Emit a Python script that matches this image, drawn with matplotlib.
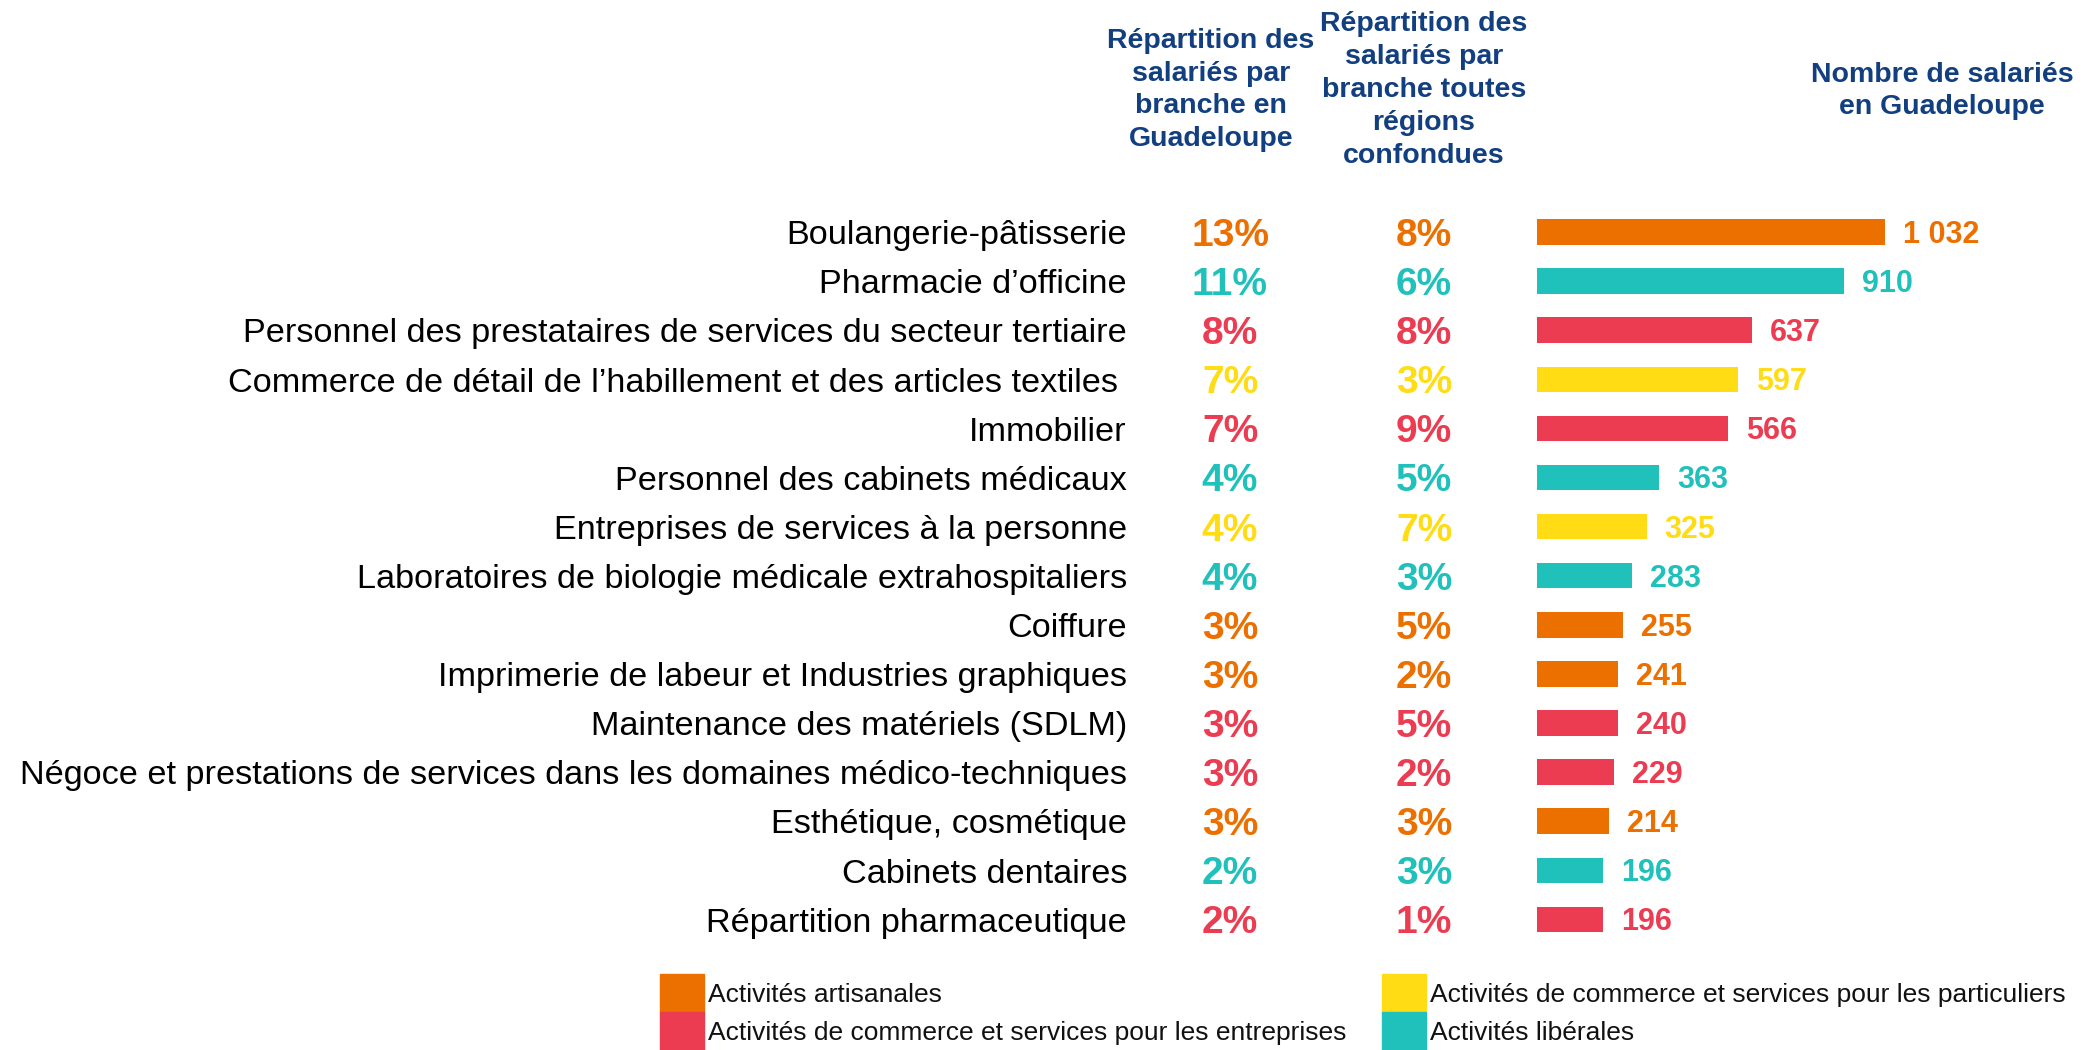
import matplotlib
matplotlib.use("Agg")
import matplotlib.pyplot as plt
from matplotlib.patches import Rectangle
from matplotlib.transforms import blended_transform_factory

# DATA
branches = [
    "Boulangerie-pâtisserie",
    "Pharmacie d’officine",
    "Personnel des prestataires de services du secteur tertiaire",
    "Commerce de détail de l’habillement et des articles textiles ",
    "Immobilier",
    "Personnel des cabinets médicaux",
    "Entreprises de services à la personne",
    "Laboratoires de biologie médicale extrahospitaliers",
    "Coiffure",
    "Imprimerie de labeur et Industries graphiques",
    "Maintenance des matériels (SDLM)",
    "Négoce et prestations de services dans les domaines médico-techniques",
    "Esthétique, cosmétique",
    "Cabinets dentaires",
    "Répartition pharmaceutique",
]
groups = ["art", "lib", "ent", "par", "ent", "lib", "par", "lib",
          "art", "art", "ent", "ent", "art", "lib", "ent"]
pct_guadeloupe = [13, 11, 8, 7, 7, 4, 4, 4, 3, 3, 3, 3, 3, 2, 2]
pct_toutes = [8, 6, 8, 3, 9, 5, 7, 3, 5, 2, 5, 2, 3, 3, 1]
nb_salaries = [1032, 910, 637, 597, 566, 363, 325, 283, 255, 241, 240, 229, 214, 196, 196]

legend_keys = ["art", "par", "ent", "lib"]
legend_labels = ["Activités artisanales",
                 "Activités de commerce et services pour les particuliers",
                 "Activités de commerce et services pour les entreprises",
                 "Activités libérales"]
colors = {"art": "#EC7000", "par": "#FFDC14", "ent": "#EB3C52", "lib": "#21C1BB"}
header_col = "#123F7F"

fam = ["Liberation Sans", "DejaVu Sans"]

W, H = 2083, 1050
fig = plt.figure(figsize=(W / 100, H / 100), dpi=100)

# bar axes (pixel layout: bars start at x=1537, rows 232 -> 919)
row_h = 49.1
top = 232 - row_h / 2
ax = fig.add_axes([1537 / W, 1 - (top + 15 * row_h) / H, (W - 1537) / W, 15 * row_h / H])
ax.set_xlim(0, (W - 1537) / 0.3372)
ax.set_ylim(14.5, -0.5)
ax.axis("off")

ypos = list(range(len(branches)))
bar_cols = [colors[g] for g in groups]
ax.barh(ypos, nb_salaries, height=0.52, color=bar_cols)

tr = blended_transform_factory(fig.transFigure, ax.transData)


def row_text(x, y, s, size, dx=0, coords=tr, **kw):
    # put the middle of the cap height on the row centre
    ax.annotate(s, (x, y), xycoords=coords, xytext=(dx, -0.358 * size),
                textcoords="offset points", va="baseline", fontsize=size,
                family=fam, **kw)


for i in ypos:
    c = bar_cols[i]
    row_text(1127 / W, i, branches[i], 24.7, ha="right", color="black")
    row_text(1230 / W, i, f"{pct_guadeloupe[i]}%", 28, ha="center",
             fontweight="bold", color=c)
    row_text(1424 / W, i, f"{pct_toutes[i]}%", 28, ha="center",
             fontweight="bold", color=c)
    lab = f"{nb_salaries[i]:,}".replace(",", " ")
    row_text(nb_salaries[i], i, lab, 22, dx=13, coords="data", ha="left",
             fontweight="bold", color=c)

# column headers
hdr = dict(ha="center", va="center", fontsize=20.5, family=fam, fontweight="bold",
           color=header_col, linespacing=1.34)
fig.text(1211 / W, 1 - 90 / H, "Répartition des\nsalariés par\nbranche en\nGuadeloupe", **hdr)
fig.text(1424 / W, 1 - 90 / H, "Répartition des\nsalariés par\nbranche toutes\nrégions\nconfondues", **hdr)
fig.text(1942 / W, 1 - 91 / H, "Nombre de salariés\nen Guadeloupe", **hdr)

# legend
lx = [660, 1382, 660, 1382]
ly = [974, 974, 1012, 1012]
for k, lab, x0, y0 in zip(legend_keys, legend_labels, lx, ly):
    fig.patches.append(Rectangle((x0 / W, 1 - (y0 + 38) / H), 44 / W, 38 / H,
                                 transform=fig.transFigure, color=colors[k]))
    fig.text((x0 + 48) / W, 1 - (y0 + 21) / H, lab, ha="left", va="center",
             fontsize=19, family=fam, color="#111111")

fig.savefig("out.png", dpi=100)
